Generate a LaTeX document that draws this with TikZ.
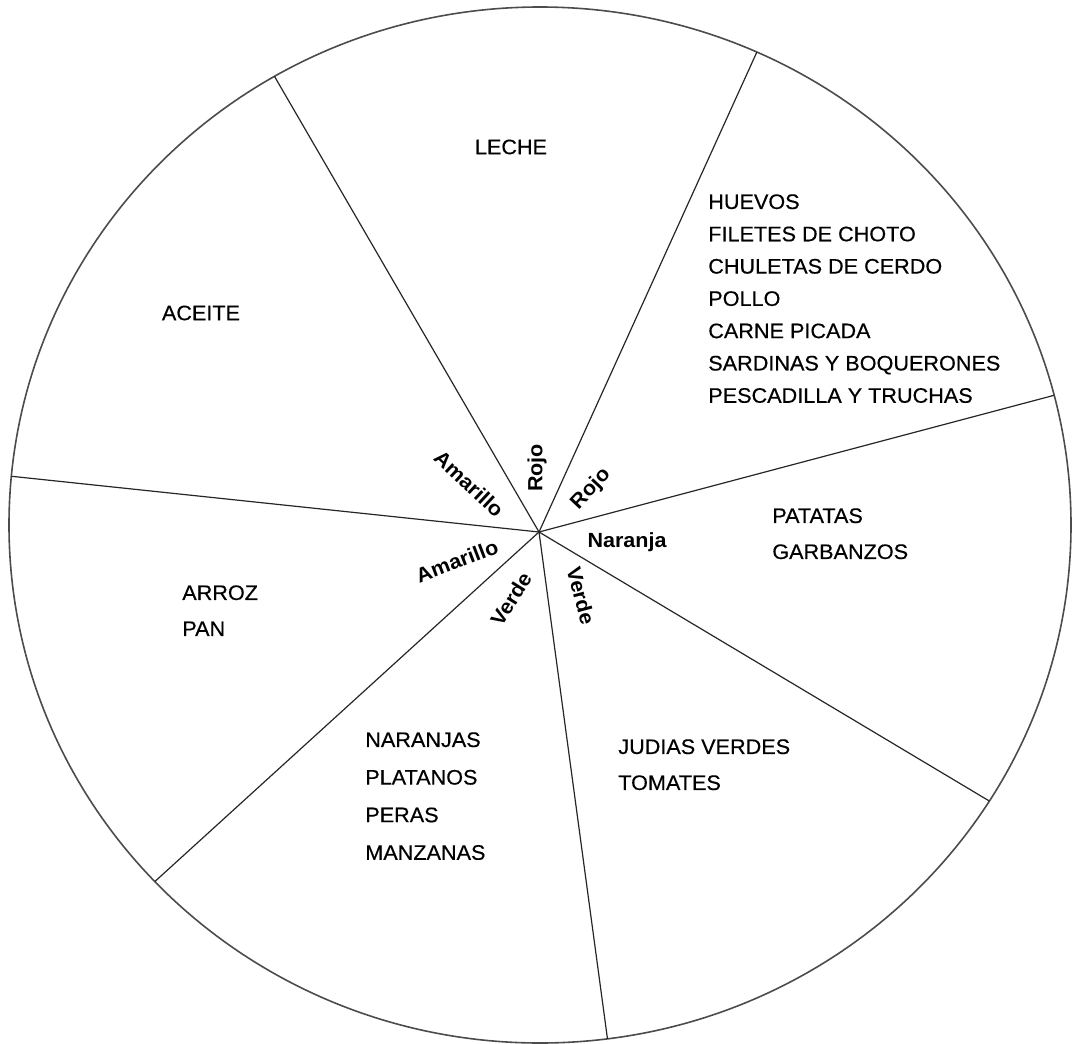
\documentclass[tikz,border=0pt]{standalone}
\usepackage{fontspec}
\setmainfont{Liberation Sans}[FakeStretch=1.03, FakeBold=0.4]
\newfontfamily\hubfont{Liberation Sans}[FakeStretch=1.05]
\usepackage{tikz}
\usetikzlibrary{positioning}

\begin{document}
\begin{tikzpicture}[x=1pt, y=-1pt, semithick]
      \tikzstyle{food}=[inner sep=0pt, anchor=north west, align=left, font=\fontsize{21}{36}\selectfont]
      \tikzstyle{colour tag}=[inner sep=0pt, font=\hubfont\bfseries\fontsize{20.5}{21}\selectfont]
      \useasboundingbox (0,0) rectangle (1079,1044);
      \coordinate (o) at (540,525);
      \coordinate (hub) at (539,532);
      % plate and slices
      \draw[black!70, line width=1.6pt] (o) ellipse [x radius=531, y radius=518];
      \foreach \a [count=\i] in {240,294.1,345.5,32.2,82.7,136.5,185.4}
        \path (o) ++(\a:531 and 518) coordinate (rim\i);
      \foreach \i in {1,...,7}
        \draw[black!85, line width=1.2pt] (hub) -- (rim\i);
      % foods
      \node[food, anchor=center] (leche) at (511,147) {LECHE};
      \node[food, anchor=center] (aceite) at (201,313) {ACEITE};
      \node[food, font=\fontsize{21}{32.3}\selectfont] (carnes) at (708,194)
        {HUEVOS\\FILETES DE CHOTO\\CHULETAS DE CERDO\\POLLO\\CARNE PICADA\\SARDINAS Y BOQUERONES\\PESCADILLA Y TRUCHAS};
      \node[food] (patatas) at (772,508) {PATATAS\\GARBANZOS};
      \node[food] (arroz) at (182,585) {ARROZ\\PAN};
      \node[food, font=\fontsize{21}{37.6}\selectfont] (frutas) at (365,732) {NARANJAS\\PLATANOS\\PERAS\\MANZANAS};
      \node[food] (verduras) at (618,739) {JUDIAS VERDES\\TOMATES};
      % colours round the hub
      \node[colour tag, rotate=-43] (amarillo1) at (469,484) {Amarillo};
      \node[colour tag, rotate=90] (rojo1) at (537,468) {Rojo};
      \node[colour tag, rotate=47] (rojo2) at (591,489) {Rojo};
      \node[colour tag] (naranja) at (627,542) {Naranja};
      \node[colour tag, rotate=21] (amarillo2) at (457,561) {Amarillo};
      \node[colour tag, rotate=58] (verde1) at (511,599) {Verde};
      \node[colour tag, rotate=-75] (verde2) at (581,596) {Verde};
\end{tikzpicture}
\end{document}
